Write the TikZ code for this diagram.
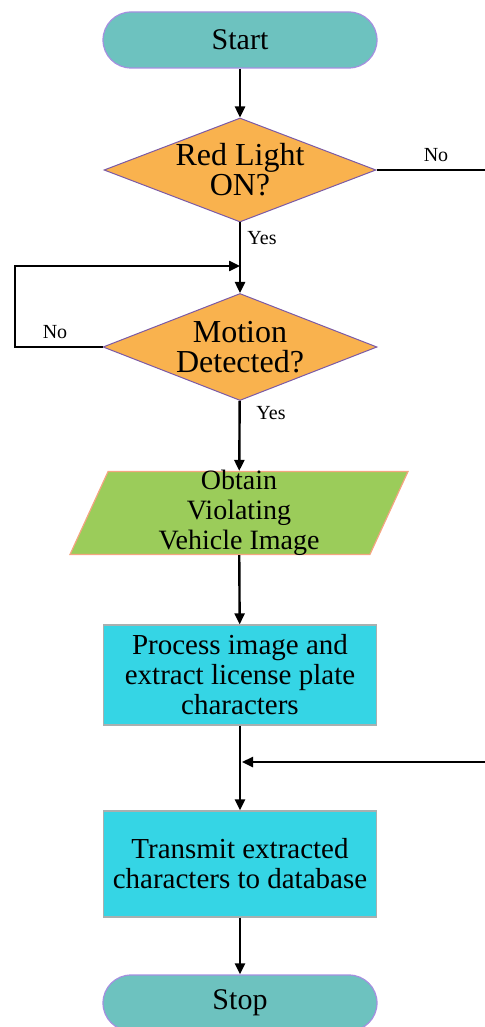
\documentclass[tikz,border=0pt]{standalone}
\usepackage{fontspec}
\setmainfont{Liberation Serif}
\usepackage{tikz}
\usetikzlibrary{arrows.meta,positioning,shapes.geometric}
\definecolor{termfill}{HTML}{6DC2BF}
\definecolor{termline}{HTML}{A58FE0}
\definecolor{decfill}{HTML}{F9B24E}
\definecolor{decline}{HTML}{7B5AA6}
\definecolor{iofill}{HTML}{9BCC5A}
\definecolor{ioline}{HTML}{F4A581}
\definecolor{procfill}{HTML}{35D5E5}
\definecolor{procline}{HTML}{A8B0B0}
\tikzset{
	flow/.style={line width=1.2pt,-{Triangle[length=5.5pt,width=5pt]}},
	terminal/.style={draw=termline,fill=termfill,line width=0.6pt,rounded corners=14pt,minimum width=137pt,minimum height=28pt,font=\fontsize{15}{17}\selectfont},
	decision/.style={diamond,draw=decline,fill=decfill,line width=0.5pt,aspect=2.6,inner sep=-8pt,align=center,font=\fontsize{16}{15}\selectfont},
	iobox/.style={trapezium,trapezium left angle=62.6,trapezium right angle=117.4,trapezium stretches body,draw=ioline,fill=iofill,line width=0.6pt,inner sep=-3pt,minimum width=169pt,minimum height=41.5pt,align=center,font=\fontsize{14}{15}\selectfont},
	procbox/.style={rectangle,draw=procline,fill=procfill,line width=0.6pt,inner sep=1pt,minimum width=136.5pt,align=center,font=\fontsize{14.5}{15}\selectfont},
	lbl/.style={font=\fontsize{10}{11}\selectfont}
}
\begin{document}
\begin{tikzpicture}[x=0.5pt,y=-0.5pt]
	\useasboundingbox (0,0) rectangle (484,1027);
	\node[terminal] (start) at (240,40) {Start};
	\node[decision,minimum width=136pt,minimum height=52pt] (red) at (240,170) {Red Light\\ON?};
	\node[decision,minimum width=137pt,minimum height=53.5pt] (motion) at (240,347) {Motion\\Detected?};
	\node[iobox] (obtain) at (239,513) {Obtain\\Violating\\Vehicle Image};
	\node[procbox,minimum height=50pt] (process) at (240,675) {Process image and\\extract license plate\\characters};
	\node[procbox,minimum height=53pt] (transmit) at (240,864) {Transmit extracted\\characters to database};
	\node[terminal] (stop) at (240,1003) {Stop};
	\coordinate (rside) at (490,170);
	\coordinate (join) at (240,762);
	\coordinate (lleft) at (15,266);
	\coordinate (loop) at (240,266);
	
	\draw[flow] (start) -- (red);
	\draw[flow] (red) -- (motion);
	\draw[flow] (motion.west) -| (lleft) -- (loop);
	\draw[flow] (motion) -- (obtain);
	\draw[flow] (obtain) -- (process);
	\draw[flow] (process) -- (transmit);
	\draw[flow,shorten >=1pt] (red.east) -- (rside) |- (join);
	\draw[flow] (transmit) -- (stop);
	
	\node[lbl] (no1) at (436,155) {No};
	\node[lbl] (yes1) at (262,238) {Yes};
	\node[lbl] (no2) at (55,332) {No};
	\node[lbl] (yes2) at (271,413) {Yes};
\end{tikzpicture}
\end{document}
